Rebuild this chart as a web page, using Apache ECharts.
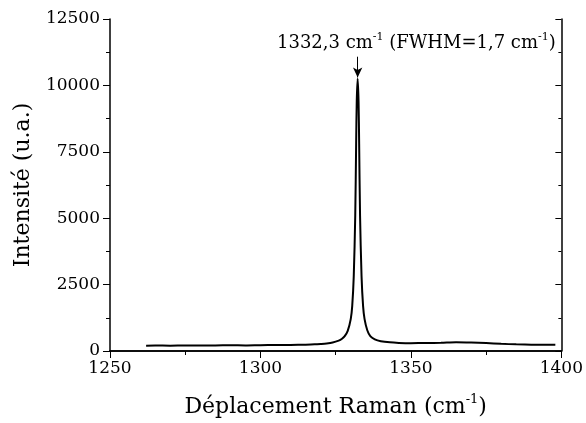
<!DOCTYPE html>
<html>
<head>
<meta charset="utf-8">
<script src="https://cdn.jsdelivr.net/npm/echarts@6/dist/echarts.min.js"></script>
<style>
    html, body { margin: 0; padding: 0; background: #fff; }
    #chart { width: 586px; height: 423px; }
</style>
</head>
<body>
<div id="chart"></div>
<script>
// Spectre Raman
const shifts = [1262, 1265, 1270, 1275, 1280, 1285, 1290, 1295, 1300, 1305,
    1310, 1315, 1318, 1320, 1322, 1324, 1326, 1327, 1328, 1329,
    1330, 1330.5, 1331, 1331.5, 1331.8, 1332.0, 1332.3, 1332.6, 1332.8, 1333.1,
    1333.6, 1334.1, 1334.6, 1335.5, 1336.5, 1338, 1340, 1343, 1346, 1350,
    1355, 1360, 1365, 1370, 1375, 1380, 1385, 1390, 1395, 1398];
const intensity = [200, 205, 200, 210, 205, 210, 215, 210, 220, 225,
    230, 240, 250, 265, 285, 320, 390, 450, 560, 760,
    1200, 1700, 2800, 5100, 7800, 9400, 10250, 9400, 7800, 5100,
    2800, 1700, 1200, 780, 560, 440, 370, 325, 305, 295,
    300, 310, 330, 320, 300, 270, 250, 240, 240, 235];
const yTicks = [0, 2500, 5000, 7500, 10000, 12500];
const xTicks = [1250, 1300, 1350, 1400];

const FONT = '"DejaVu Serif", "Liberation Serif", serif';

function initChart() {
    const chart = echarts.init(document.getElementById('chart'));
    const points = shifts.map((x, i) => [x, intensity[i]]);

    const mirrorAxis = {
        axisLine: { show: true, lineStyle: { color: '#000', width: 1.5 } },
        axisTick: { show: true, inside: true, length: 6, lineStyle: { color: '#000' } },
        minorTick: { show: true, splitNumber: 2, length: 3, lineStyle: { color: '#000' } },
        axisLabel: { show: false },
        splitLine: { show: false }
    };

    const option = {
        animation: false,
        grid: { left: 110, right: 23, top: 19, bottom: 70 },
        xAxis: [{
            type: 'value',
            min: xTicks[0],
            max: xTicks[xTicks.length - 1],
            interval: 50,
            name: '{t|Déplacement Raman (cm}{s|-1}{t|)}',
            nameLocation: 'middle',
            nameGap: 42,
            nameTextStyle: {
                rich: {
                    t: { fontFamily: FONT, fontSize: 22, color: '#000' },
                    s: { fontFamily: FONT, fontSize: 13, color: '#000', verticalAlign: 'top', padding: [0, 0, 15, 0] }
                }
            },
            axisLine: { show: true, lineStyle: { color: '#000', width: 1.5 } },
            axisTick: { show: true, length: 7, lineStyle: { color: '#000' } },
            minorTick: { show: true, splitNumber: 2, length: 4, lineStyle: { color: '#000' } },
            axisLabel: { fontFamily: FONT, fontSize: 17, color: '#000', margin: 9, formatter: v => String(v) },
            splitLine: { show: false }
        }, Object.assign({
            type: 'value',
            position: 'top',
            min: xTicks[0],
            max: xTicks[xTicks.length - 1],
            interval: 50
        }, mirrorAxis)],
        yAxis: [{
            type: 'value',
            min: yTicks[0],
            max: yTicks[yTicks.length - 1],
            interval: 2500,
            name: 'Intensité (u.a.)',
            nameLocation: 'middle',
            nameGap: 76,
            nameTextStyle: { fontFamily: FONT, fontSize: 22, color: '#000' },
            axisLine: { show: true, lineStyle: { color: '#000', width: 1.5 } },
            axisTick: { show: true, length: 7, lineStyle: { color: '#000' } },
            minorTick: { show: true, splitNumber: 2, length: 4, lineStyle: { color: '#000' } },
            axisLabel: { fontFamily: FONT, fontSize: 17, color: '#000', margin: 10, formatter: v => String(v) },
            splitLine: { show: false }
        }, Object.assign({
            type: 'value',
            position: 'right',
            min: yTicks[0],
            max: yTicks[yTicks.length - 1],
            interval: 2500
        }, mirrorAxis)],
        series: [{
            type: 'line',
            data: points,
            showSymbol: false,
            smooth: 0.3,
            lineStyle: { color: '#000', width: 2 },
            markLine: {
                silent: true,
                symbol: ['none', 'arrow'],
                symbolSize: [7, 10],
                label: { show: false },
                lineStyle: { color: '#000', width: 1, type: 'solid' },
                data: [[{ coord: [1332.3, 11080] }, { coord: [1332.3, 10300] }]]
            }
        }],
        graphic: [{
            type: 'text',
            left: 277,
            top: 32,
            style: {
                text: '{t|1332,3 cm}{s|-1}{t| (FWHM=1,7 cm}{s|-1}{t|)}',
                rich: {
                    t: { fontFamily: FONT, fontSize: 18, fill: '#000' },
                    s: { fontFamily: FONT, fontSize: 11, fill: '#000', verticalAlign: 'top', padding: [0, 0, 12, 0] }
                }
            }
        }]
    };

    chart.setOption(option);
}

document.addEventListener('DOMContentLoaded', initChart);
</script>
</body>
</html>
